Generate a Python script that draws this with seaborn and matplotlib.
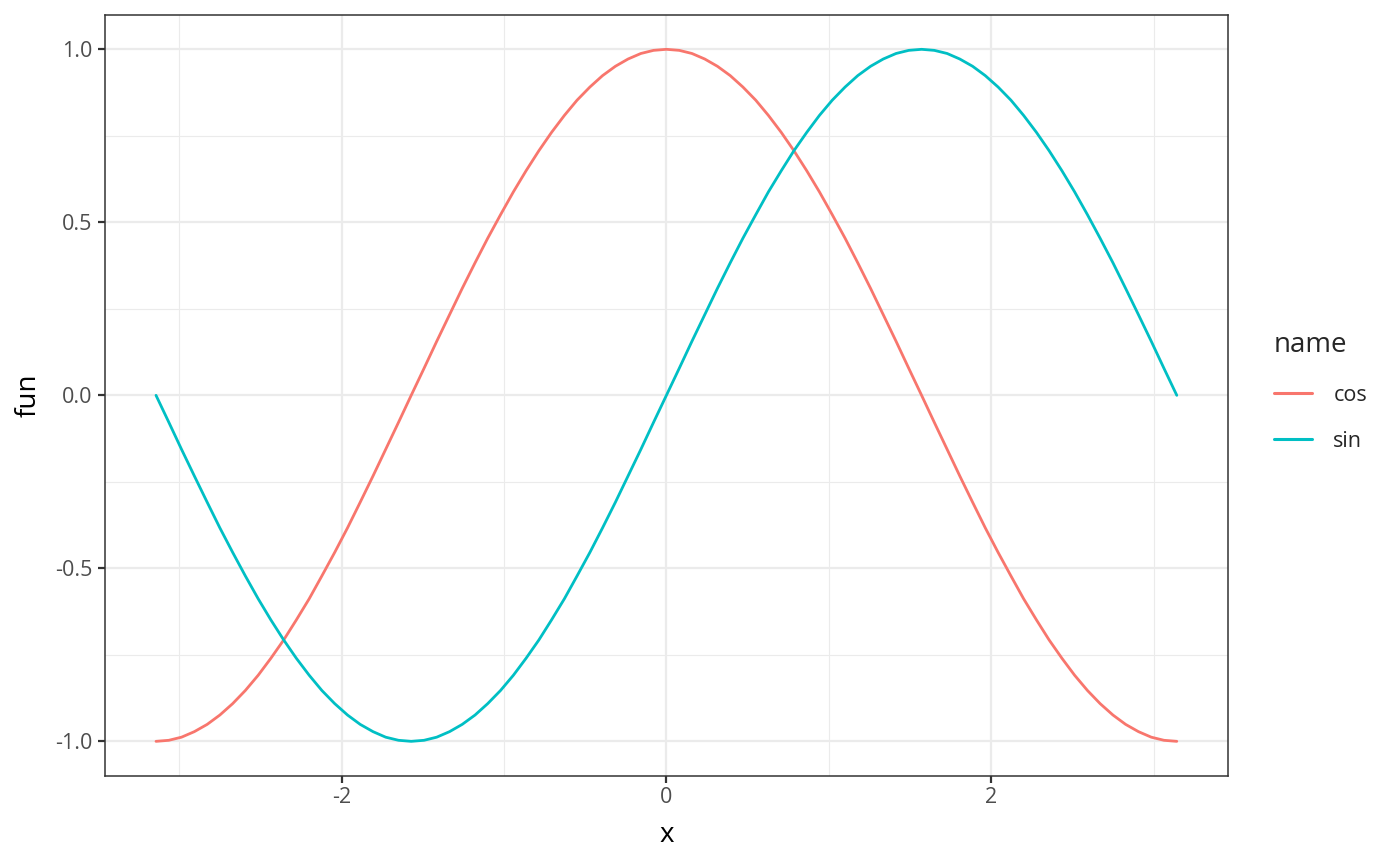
import matplotlib

matplotlib.use("Agg")

import matplotlib.pyplot as plt
import pandas as pd
import seaborn as sns
from matplotlib.ticker import FixedLocator

# points, x step of about 0.0785
x_vals = [
    -3.142, -3.063, -2.985, -2.906, -2.827, -2.749, -2.670, -2.592, -2.513, -2.435,
    -2.356, -2.278, -2.199, -2.121, -2.042, -1.963, -1.885, -1.806, -1.728, -1.649,
    -1.571, -1.492, -1.414, -1.335, -1.257, -1.178, -1.100, -1.021, -0.942, -0.864,
    -0.785, -0.707, -0.628, -0.550, -0.471, -0.393, -0.314, -0.236, -0.157, -0.079,
    0.000,
    0.079, 0.157, 0.236, 0.314, 0.393, 0.471, 0.550, 0.628, 0.707, 0.785,
    0.864, 0.942, 1.021, 1.100, 1.178, 1.257, 1.335, 1.414, 1.492, 1.571,
    1.649, 1.728, 1.806, 1.885, 1.963, 2.042, 2.121, 2.199, 2.278, 2.356,
    2.435, 2.513, 2.592, 2.670, 2.749, 2.827, 2.906, 2.985, 3.063, 3.142,
]
cos_vals = [
    -1.000, -0.997, -0.988, -0.972, -0.951, -0.924, -0.891, -0.853, -0.809, -0.760,
    -0.707, -0.649, -0.588, -0.522, -0.454, -0.383, -0.309, -0.233, -0.156, -0.078,
    0.000, 0.078, 0.156, 0.233, 0.309, 0.383, 0.454, 0.522, 0.588, 0.649,
    0.707, 0.760, 0.809, 0.853, 0.891, 0.924, 0.951, 0.972, 0.988, 0.997,
    1.000,
    0.997, 0.988, 0.972, 0.951, 0.924, 0.891, 0.853, 0.809, 0.760, 0.707,
    0.649, 0.588, 0.522, 0.454, 0.383, 0.309, 0.233, 0.156, 0.078, 0.000,
    -0.078, -0.156, -0.233, -0.309, -0.383, -0.454, -0.522, -0.588, -0.649, -0.707,
    -0.760, -0.809, -0.853, -0.891, -0.924, -0.951, -0.972, -0.988, -0.997, -1.000,
]
sin_vals = [
    0.000, -0.078, -0.156, -0.233, -0.309, -0.383, -0.454, -0.522, -0.588, -0.649,
    -0.707, -0.760, -0.809, -0.853, -0.891, -0.924, -0.951, -0.972, -0.988, -0.997,
    -1.000, -0.997, -0.988, -0.972, -0.951, -0.924, -0.891, -0.853, -0.809, -0.760,
    -0.707, -0.649, -0.588, -0.522, -0.454, -0.383, -0.309, -0.233, -0.156, -0.078,
    0.000,
    0.078, 0.156, 0.233, 0.309, 0.383, 0.454, 0.522, 0.588, 0.649, 0.707,
    0.760, 0.809, 0.853, 0.891, 0.924, 0.951, 0.972, 0.988, 0.997, 1.000,
    0.997, 0.988, 0.972, 0.951, 0.924, 0.891, 0.853, 0.809, 0.760, 0.707,
    0.649, 0.588, 0.522, 0.454, 0.383, 0.309, 0.233, 0.156, 0.078, 0.000,
]
names = ["cos", "sin"]
colors = ["#F8766D", "#00BFC4"]
x_ticks = [-2, 0, 2]
x_minor = [-3, -1, 1, 3]
y_ticks = [-1.0, -0.5, 0.0, 0.5, 1.0]
y_minor = [-0.75, -0.25, 0.25, 0.75]

df = pd.concat([
    pd.DataFrame({"x": x_vals, "fun": cos_vals, "name": "cos"}),
    pd.DataFrame({"x": x_vals, "fun": sin_vals, "name": "sin"}),
])

sns.set_theme(style="white")
plt.rcParams["font.family"] = ["Open Sans", "DejaVu Sans"]

fig = plt.figure(figsize=(14, 8.66), dpi=100)
ax = fig.add_axes([0.075, 0.104, 0.802, 0.879])

# panel grid, minor lines thinner than major
for v in x_minor:
    ax.axvline(v, color="#EBEBEB", lw=0.8, zorder=0)
for v in y_minor:
    ax.axhline(v, color="#EBEBEB", lw=0.8, zorder=0)
for v in x_ticks:
    ax.axvline(v, color="#EBEBEB", lw=1.6, zorder=0)
for v in y_ticks:
    ax.axhline(v, color="#EBEBEB", lw=1.6, zorder=0)

sns.lineplot(data=df, x="x", y="fun", hue="name", hue_order=names,
             palette=colors, linewidth=2.0, ax=ax, sort=False)

ax.set_xlim(-3.456, 3.456)
ax.set_ylim(-1.1, 1.1)
ax.xaxis.set_major_locator(FixedLocator(x_ticks))
ax.yaxis.set_major_locator(FixedLocator(y_ticks))
ax.set_xticklabels([str(t) for t in x_ticks])
ax.set_yticklabels([f"{t:.1f}" for t in y_ticks])
ax.tick_params(axis="both", which="major", length=5, width=1.6, color="#333333",
               labelsize=15.5, labelcolor="#4D4D4D", bottom=True, left=True)
ax.tick_params(axis="x", pad=3)
ax.tick_params(axis="y", pad=4)
for s in ax.spines.values():
    s.set_color("#333333")
    s.set_linewidth(1.1)

ax.set_xlabel("x", fontsize=20, color="black", labelpad=9)
ax.set_ylabel("fun", fontsize=20, color="black", labelpad=9)

leg = ax.legend(title="name", loc="center left", bbox_to_anchor=(1.024, 0.505),
                frameon=False, fontsize=15.5, title_fontsize=20,
                handlelength=1.75, handletextpad=1.0, labelspacing=1.18)
leg._legend_box.align = "left"
for line in leg.get_lines():
    line.set_linewidth(2.2)

fig.savefig("out.png", dpi=100, facecolor="white")
